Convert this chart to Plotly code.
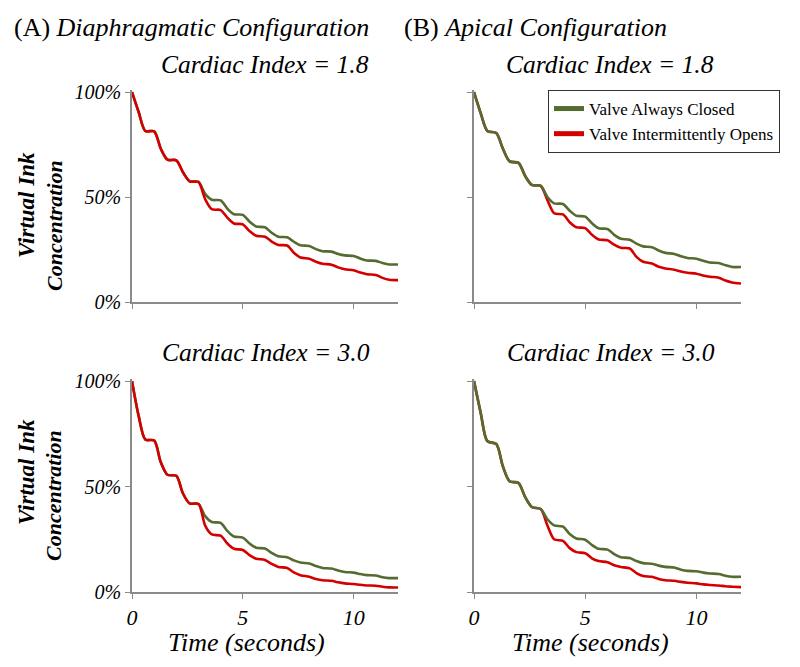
import plotly.graph_objects as go

# ---------------- data ----------------
time_s = [0, 0.3, 0.6, 1.0, 1.3, 1.6, 2.0, 2.3, 2.6, 3.0, 3.3, 3.6, 4.0, 4.3, 4.6, 5.0,
          5.3, 5.6, 6.0, 6.3, 6.6, 7.0, 7.3, 7.6, 8.0, 8.3, 8.6, 9.0, 9.3, 9.6, 10.0,
          10.3, 10.6, 11.0, 11.3, 11.6, 12.0]

diaph_18_closed = [100, 90.5, 81.5, 81.3, 73.0, 67.8, 67.5, 61.8, 57.5, 57.2, 51.5, 48.7, 48.4,
                   44.5, 41.8, 41.5, 38.3, 36.0, 35.6, 33.0, 31.1, 30.8, 28.7, 27.0, 26.7, 25.2,
                   24.2, 24.0, 22.9, 22.2, 21.9, 20.7, 19.8, 19.6, 18.6, 17.9, 17.9]
diaph_18_open = [100, 90.5, 81.5, 81.3, 73.0, 67.8, 67.5, 61.8, 57.5, 57.2, 49.0, 44.2, 43.8,
                 40.2, 37.4, 37.0, 33.8, 31.6, 31.1, 28.8, 27.2, 26.9, 23.5, 21.2, 20.6, 19.2,
                 18.2, 17.8, 16.5, 15.6, 15.1, 14.0, 13.2, 12.9, 11.5, 10.6, 10.4]

apical_18_closed = [100, 90.0, 81.5, 80.5, 73.0, 67.0, 66.3, 60.0, 55.8, 55.3, 50.0, 47.0, 46.7,
                    43.5, 41.1, 40.7, 37.5, 35.1, 34.8, 32.0, 30.1, 29.7, 27.8, 26.5, 26.1, 24.5,
                    23.4, 22.9, 21.8, 21.0, 20.6, 19.6, 18.8, 18.6, 17.5, 16.7, 16.7]
apical_18_open = [100, 90.0, 81.5, 80.5, 73.0, 67.0, 66.3, 60.0, 55.8, 55.3, 48.5, 42.3, 41.7,
                  38.0, 35.6, 35.2, 32.0, 29.8, 29.4, 27.3, 25.8, 25.5, 21.5, 19.2, 18.3, 16.8,
                  16.0, 15.4, 14.5, 13.9, 13.5, 12.6, 12.0, 11.6, 10.2, 9.3, 8.8]

diaph_30_closed = [100, 83.5, 72.3, 71.8, 61.5, 55.6, 55.1, 46.7, 42.0, 41.7, 36.0, 33.2, 32.8,
                   29.0, 26.3, 25.8, 23.0, 21.0, 20.6, 18.5, 16.9, 16.5, 15.0, 14.0, 13.5, 12.3,
                   11.4, 11.1, 10.2, 9.5, 9.2, 8.5, 8.0, 7.8, 7.0, 6.6, 6.6]
diaph_30_open = [100, 83.5, 72.3, 71.8, 61.5, 55.6, 55.1, 46.7, 42.0, 41.7, 31.5, 27.3, 26.7,
                 23.0, 20.5, 19.9, 17.5, 15.8, 15.2, 13.3, 11.9, 11.4, 9.3, 8.0, 7.2, 6.2,
                 5.6, 5.3, 4.6, 4.1, 3.8, 3.4, 3.1, 3.0, 2.5, 2.2, 2.1]

apical_30_closed = [100, 85.0, 71.5, 70.2, 59.5, 52.5, 51.7, 45.0, 40.3, 39.3, 34.5, 31.6, 31.0,
                    27.5, 25.4, 24.8, 22.3, 20.5, 20.1, 18.0, 16.5, 16.1, 14.7, 13.7, 13.4, 12.5,
                    11.9, 11.6, 10.6, 10.0, 9.8, 9.2, 8.8, 8.5, 7.7, 7.2, 7.2]
apical_30_open = [100, 85.0, 71.5, 70.2, 59.5, 52.5, 51.7, 45.0, 40.3, 39.3, 31.5, 25.0, 24.2,
                  20.8, 18.9, 18.4, 16.0, 14.7, 14.1, 12.7, 11.9, 11.2, 9.0, 7.6, 7.2, 6.2,
                  5.6, 5.3, 4.8, 4.4, 4.1, 3.6, 3.3, 3.1, 2.7, 2.5, 2.3]

series_names = ["Valve Always Closed", "Valve Intermittently Opens"]
x_ticks = [0, 5, 10]
x_tick_text = ["0", "5", "10"]
y_ticks = [0, 50, 100]
y_tick_text = ["0%", "50%", "100%"]
header_texts = ["(A) <i>Diaphragmatic Configuration</i>", "(B) <i>Apical Configuration</i>"]
panel_titles = ["<i>Cardiac Index = 1.8</i>", "<i>Cardiac Index = 1.8</i>",
                "<i>Cardiac Index = 3.0</i>", "<i>Cardiac Index = 3.0</i>"]
x_title = "<i>Time (seconds)</i>"
y_title_lines = ["<b><i>Virtual Ink</i></b>", "<b><i>Concentration</i></b>"]

# ---------------- styling ----------------
GREEN = "#556b2f"
RED = "#d40000"
AXC = "#8a8a8a"
FONT = "Liberation Serif, Times New Roman, serif"
OFF = 8                     # page body margin in the browser
W, H = 800 - OFF, 667 - OFF

def px_x(p):
    return (p - OFF) / W

def px_y(p):
    return 1 - (p - OFF) / H

fig = go.Figure()

panels = [
    # (axis suffix, closed, open, red on top)
    ("", diaph_18_closed, diaph_18_open, True),
    ("2", apical_18_closed, apical_18_open, False),
    ("3", diaph_30_closed, diaph_30_open, True),
    ("4", apical_30_closed, apical_30_open, False),
]

for i, (sfx, closed, opened, red_top) in enumerate(panels):
    tr_closed = go.Scatter(x=time_s, y=closed, mode="lines", name=series_names[0],
                           line=dict(color=GREEN, width=2.6, shape="spline", smoothing=0.8),
                           xaxis="x" + sfx, yaxis="y" + sfx, showlegend=False)
    tr_open = go.Scatter(x=time_s, y=opened, mode="lines", name=series_names[1],
                         line=dict(color=RED, width=2.6, shape="spline", smoothing=0.8),
                         xaxis="x" + sfx, yaxis="y" + sfx, showlegend=False)
    if red_top:
        fig.add_trace(tr_closed)
        fig.add_trace(tr_open)
    else:
        fig.add_trace(tr_open)
        fig.add_trace(tr_closed)

# legend-only entries (thicker sample lines, as in the reference legend)
for nm, col in zip(series_names, [GREEN, RED]):
    fig.add_trace(go.Scatter(x=[None], y=[None], mode="lines", name=nm,
                             line=dict(color=col, width=5), xaxis="x2", yaxis="y2",
                             showlegend=True))

x_domains = [[px_x(132), px_x(398)], [px_x(474), px_x(741)]]
y_domains = [[px_y(302), px_y(90)], [px_y(592), px_y(379)]]

def xaxis_cfg(col, row, anchor):
    return dict(domain=x_domains[col], anchor=anchor, range=[0, 12], automargin=False,
                showgrid=False, zeroline=False, showline=True, linecolor=AXC, linewidth=1.5,
                ticks="outside", ticklen=5, tickwidth=1, tickcolor=AXC,
                tickvals=x_ticks, ticktext=x_tick_text, showticklabels=(row == 1),
                tickfont=dict(family=FONT, size=22, color="black", style="italic"))

def yaxis_cfg(col, row, anchor):
    return dict(domain=y_domains[row], anchor=anchor, range=[0, 101], automargin=False,
                showgrid=False, zeroline=False, showline=True, linecolor=AXC, linewidth=1.5,
                ticks="outside", ticklen=5, tickwidth=1, tickcolor=AXC,
                tickvals=y_ticks, ticktext=y_tick_text, showticklabels=(col == 0),
                tickfont=dict(family=FONT, size=20, color="black", style="italic"))

fig.update_layout(
    xaxis=xaxis_cfg(0, 0, "y"), yaxis=yaxis_cfg(0, 0, "x"),
    xaxis2=xaxis_cfg(1, 0, "y2"), yaxis2=yaxis_cfg(1, 0, "x2"),
    xaxis3=xaxis_cfg(0, 1, "y3"), yaxis3=yaxis_cfg(0, 1, "x3"),
    xaxis4=xaxis_cfg(1, 1, "y4"), yaxis4=yaxis_cfg(1, 1, "x4"),
)

ann = []
# headers
ann.append(dict(text=header_texts[0], x=px_x(12), y=px_y(28), xanchor="left", yanchor="middle",
                font=dict(family=FONT, size=26, color="black")))
ann.append(dict(text=header_texts[1], x=px_x(402), y=px_y(28), xanchor="left", yanchor="middle",
                font=dict(family=FONT, size=26, color="black")))
# panel titles
for (cx, cy), t in zip([(265, 64), (610, 64), (266, 352), (611, 352)], panel_titles):
    ann.append(dict(text=t, x=px_x(cx), y=px_y(cy), xanchor="center", yanchor="middle",
                    font=dict(family=FONT, size=25.5, color="black")))
# x titles
for cx in (246, 590):
    ann.append(dict(text=x_title, x=px_x(cx), y=px_y(642), xanchor="center", yanchor="middle",
                    font=dict(family=FONT, size=26, color="black")))
# y titles (two rotated lines per row)
for cy1, cy2 in ((205, 226), (472, 496)):
    ann.append(dict(text=y_title_lines[0], x=px_x(26), y=px_y(cy1), xanchor="center",
                    yanchor="middle", textangle=-90,
                    font=dict(family=FONT, size=23, color="black")))
    ann.append(dict(text=y_title_lines[1], x=px_x(54), y=px_y(cy2), xanchor="center",
                    yanchor="middle", textangle=-90,
                    font=dict(family=FONT, size=22, color="black")))
for a in ann:
    a.update(xref="paper", yref="paper", showarrow=False)

fig.update_layout(
    width=W, height=H,
    margin=dict(l=0, r=0, t=0, b=0, pad=0, autoexpand=False),
    paper_bgcolor="white", plot_bgcolor="white",
    annotations=ann,
    showlegend=True,
    legend=dict(x=px_x(548), y=px_y(90), xanchor="left", yanchor="top",
                bgcolor="white", bordercolor="#333333", borderwidth=1,
                font=dict(family=FONT, size=17, color="black"),
                itemwidth=30, tracegroupgap=0, traceorder="normal"),
)

fig.write_html("out.html")
